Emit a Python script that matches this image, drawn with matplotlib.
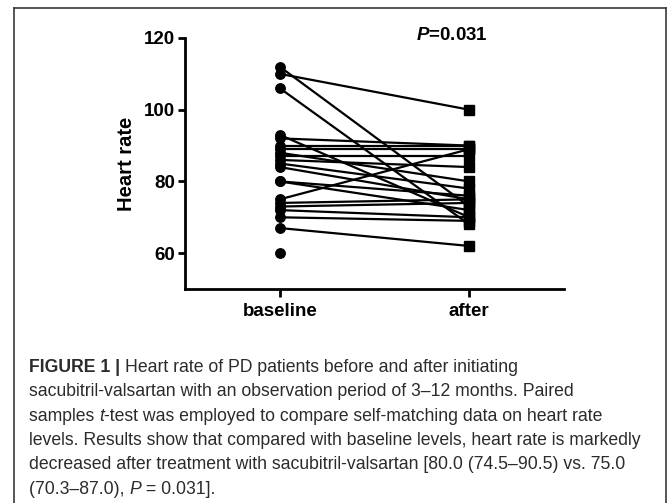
import numpy as np
import matplotlib
matplotlib.use("Agg")
import matplotlib.pyplot as plt
from matplotlib.lines import Line2D

plt.rcParams['mathtext.fontset'] = 'custom'
plt.rcParams['mathtext.bfit'] = 'Liberation Sans:italic:bold'
plt.rcParams['mathtext.rm'] = 'Liberation Sans:bold'

# ---- data ----
groups = ["baseline", "after"]
baseline = [112, 110, 106, 93, 92, 90, 89, 88, 87, 86, 85, 84, 80, 80, 75, 74, 73, 72, 70, 67, 60]
after = [73, 100, 68, 70, 90, 90, 89, 80, 87, 84, 78, 75, 76, 72, 89, 75, 74, 70, 69, 62, np.nan]
yticks = [60, 80, 100, 120]
ylabel = "Heart rate"
p_text = r"$\mathbfit{P}$=0.031"
caption_lines = [
    [("FIGURE 1 | ", "bold"), ("Heart rate of PD patients before and after initiating", "normal")],
    [("sacubitril-valsartan with an observation period of 3\u201312 months. Paired", "normal")],
    [("samples ", "normal"), ("t", "italic"), ("-test was employed to compare self-matching data on heart rate", "normal")],
    [("levels. Results show that compared with baseline levels, heart rate is markedly", "normal")],
    [("decreased after treatment with sacubitril-valsartan [80.0 (74.5\u201390.5) vs. 75.0", "normal")],
    [("(70.3\u201387.0), ", "normal"), ("P", "italic"), (" = 0.031].", "normal")],
]

W, H = 669, 503
fig = plt.figure(figsize=(W / 100, H / 100), dpi=100)
fig.patch.set_facecolor("white")

# outer frame (left, top, right)
fc = "#3a3a3a"
fig.add_artist(Line2D([14 / W, 14 / W], [0, 1 - 8 / H], transform=fig.transFigure, color=fc, lw=1.2))
fig.add_artist(Line2D([14 / W, 666 / W], [1 - 8 / H, 1 - 8 / H], transform=fig.transFigure, color=fc, lw=1.2))
fig.add_artist(Line2D([666 / W, 666 / W], [0, 1 - 8 / H], transform=fig.transFigure, color=fc, lw=1.2))

ax_l, ax_r, ax_t, ax_b = 185, 564, 38, 289
ax = fig.add_axes([ax_l / W, 1 - ax_b / H, (ax_r - ax_l) / W, (ax_b - ax_t) / H])
ax.set_xlim(-0.5, 1.5)
ax.set_ylim(50, 120)

xb, xa = 0, 1
for b, a in zip(baseline, after):
    if not np.isnan(a):
        ax.plot([xb, xa], [b, a], color="black", lw=1.6, zorder=2, solid_capstyle="round")
ax.plot([xb] * len(baseline), baseline, "o", color="black", ms=6.8, zorder=3, clip_on=False)
ax.plot([xa] * len(after), after, "s", color="black", ms=7.2, zorder=3, clip_on=False)

for s in ["top", "right"]:
    ax.spines[s].set_visible(False)
for s in ["left", "bottom"]:
    ax.spines[s].set_linewidth(2.0)
ax.set_yticks(yticks)
ax.set_xticks([xb, xa])
ax.set_xticklabels(groups)
ax.tick_params(axis="both", width=2.0, length=5, labelsize=13.5, pad=2)
ax.tick_params(axis="x", length=6, pad=4)
for lab in ax.get_xticklabels() + ax.get_yticklabels():
    lab.set_fontweight("bold")
    lab.set_fontfamily("Liberation Sans")
ax.set_ylabel(ylabel, fontsize=14.5, fontweight="bold", fontfamily="Liberation Sans", labelpad=6)

fig.text(452 / W, 1 - 35 / H, p_text, fontsize=13.5, fontweight="bold", fontfamily="Liberation Sans",
         ha="center", va="center")

# caption
fig.canvas.draw()
renderer = fig.canvas.get_renderer()
cap_x0 = 29
cap_y0 = 372
cap_dy = 24.3
cap_fam = "Liberation Sans"
target_w = 616.0  # width of the longest caption line in pixels


def seg_kw(style, size):
    kw = dict(fontsize=size, family=cap_fam, color="#2b2b2b", va="baseline", ha="left")
    if style == "bold":
        kw["fontweight"] = "bold"
    elif style == "italic":
        kw["fontstyle"] = "italic"
    return kw


def line_width(segs, size):
    tot = 0
    for txt, style in segs:
        t = fig.text(0, 0, txt, **seg_kw(style, size))
        tot += t.get_window_extent(renderer=renderer).width
        t.remove()
    return tot


ref_size = 12.0
longest = max(line_width(s, ref_size) for s in caption_lines)
cap_size = ref_size * target_w / longest

for i, segs in enumerate(caption_lines):
    x = cap_x0
    y = cap_y0 + i * cap_dy
    for txt, style in segs:
        t = fig.text(x / W, 1 - y / H, txt, **seg_kw(style, cap_size))
        bb = t.get_window_extent(renderer=renderer)
        x += bb.width

fig.savefig("out.png", dpi=100, facecolor="white")
